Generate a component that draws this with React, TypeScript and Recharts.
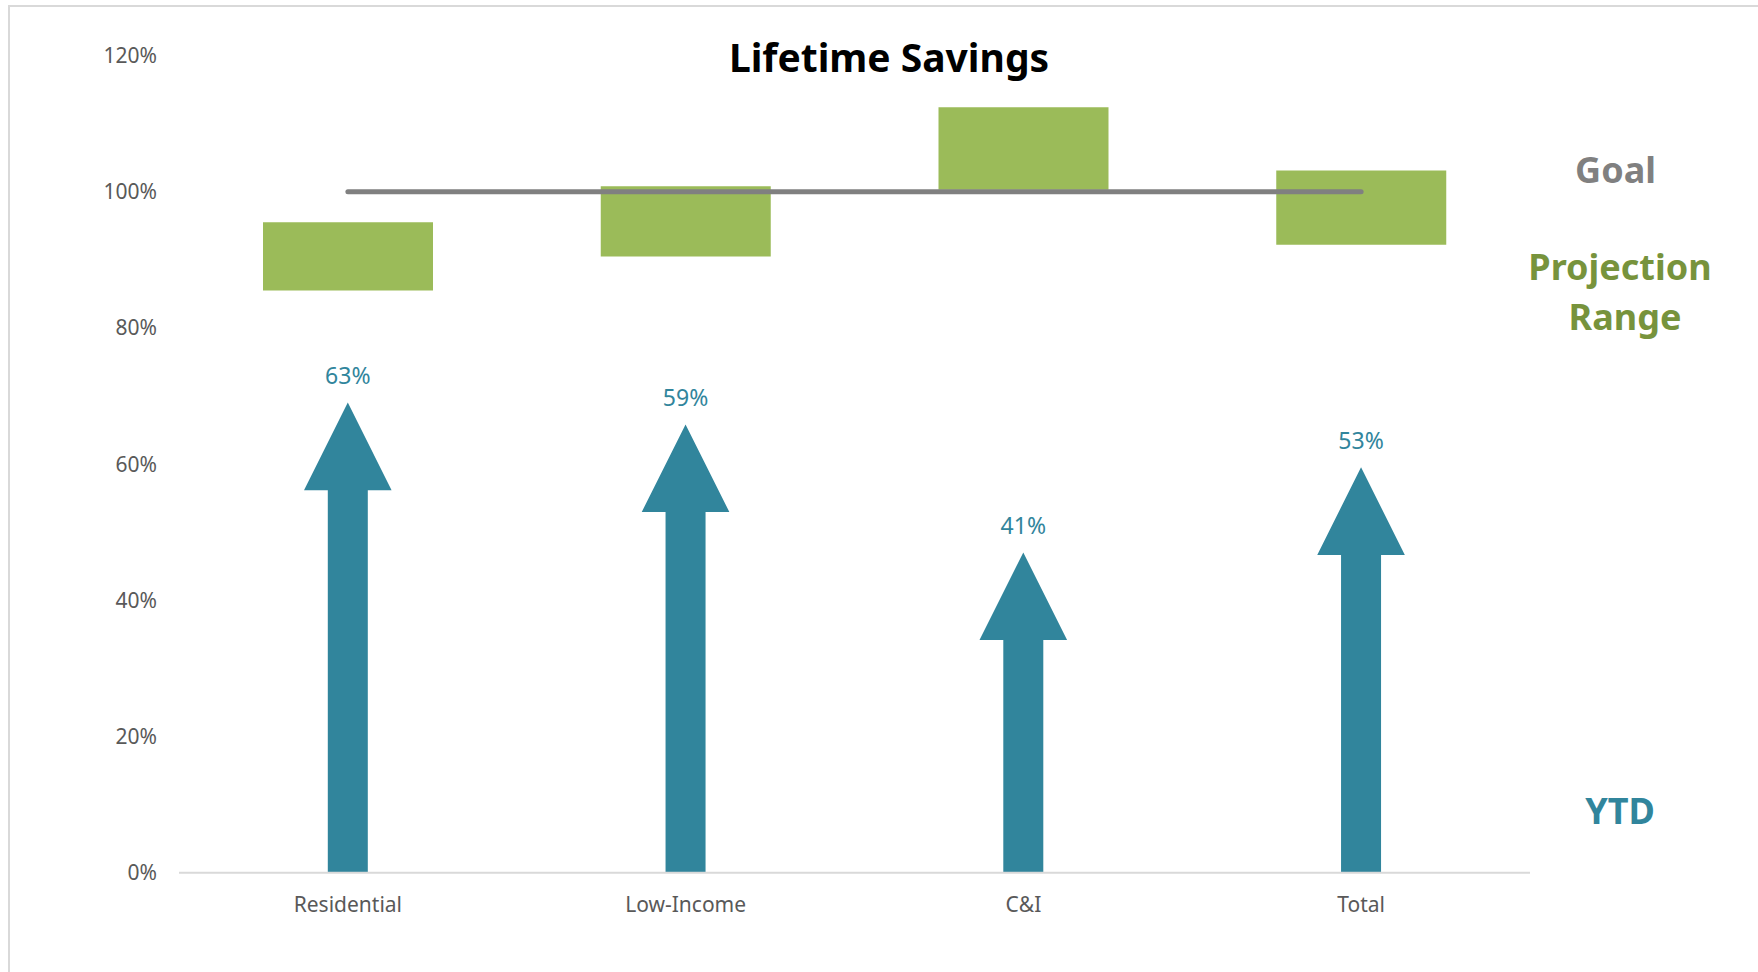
import React from 'react';
import { ComposedChart, Bar, Line, XAxis, YAxis } from 'recharts';

const categories = ['Residential', 'Low-Income', 'C&I', 'Total'];
const ytdValues = [62.6, 59.4, 40.6, 53.1];
const projectionLow = [85.5, 90.5, 100.3, 92.2];
const projectionHigh = [95.5, 100.8, 112.4, 103.1];
const goalValues = [100, 100, 100, 100];
const yTicks = [0, 20, 40, 60, 80, 100, 120];

const TEAL = '#31859C';
const GREEN = '#9BBB59';
const DARK_GREEN = '#77933C';
const GRAY = '#808080';
const FONT = '"Noto Sans", "Open Sans", sans-serif';

const data = categories.map((name, i) => ({
  name,
  ytd: ytdValues[i],
  range: [projectionLow[i], projectionHigh[i]],
  goal: goalValues[i],
}));

const ArrowShape = (props: any) => {
  const { x, y, width, height, payload } = props;
  if (x == null || y == null) return null;
  const cx = x + width / 2;
  const headHalfW = width / 2;
  const headHalfH = 43.8;
  const shaftHalf = 20;
  const bottom = y + height;
  const pts = [
    [cx - shaftHalf, bottom],
    [cx - shaftHalf, y + headHalfH],
    [cx - headHalfW, y + headHalfH],
    [cx, y - headHalfH],
    [cx + headHalfW, y + headHalfH],
    [cx + shaftHalf, y + headHalfH],
    [cx + shaftHalf, bottom],
  ]
    .map((p) => p.join(','))
    .join(' ');
  return (
    <g>
      <polygon points={pts} fill={TEAL} />
      <text
        x={cx}
        y={y - 62}
        textAnchor="middle"
        fill={TEAL}
        fontSize={23}
        fontFamily={FONT}
      >
        {Math.round(payload.ytd)}%
      </text>
    </g>
  );
};

export default function App() {
  return (
    <div
      style={{
        position: 'absolute',
        left: 0,
        top: 0,
        width: 1758,
        height: 972,
        overflow: 'hidden',
        background: '#ffffff',
      }}
    >
      <div
        style={{
          position: 'absolute',
          left: 8,
          top: 5,
          width: 1800,
          height: 1000,
          borderTop: '2px solid #D9D9D9',
          borderLeft: '2px solid #D9D9D9',
        }}
      />
      <div style={{ position: 'absolute', left: 0, top: 0 }}>
        <ComposedChart
          width={1758}
          height={972}
          data={data}
          margin={{ top: 55.5, right: 228, bottom: 59.3, left: 79 }}
        >
          <XAxis
            xAxisId="a"
            dataKey="name"
            height={40}
            axisLine={{ stroke: '#D9D9D9', strokeWidth: 2 }}
            tickLine={false}
            tickSize={0}
            tickMargin={24}
            tick={{ fill: '#595959', fontSize: 21, fontFamily: FONT }}
          />
          <XAxis xAxisId="b" dataKey="name" hide />
          <YAxis
            domain={[0, 120]}
            ticks={yTicks}
            tickFormatter={(v: number) => `${v}%`}
            axisLine={false}
            tickLine={false}
            tickSize={0}
            tickMargin={22}
            width={100}
            tick={{ fill: '#595959', fontSize: 21, fontFamily: FONT }}
          />
          <Bar
            xAxisId="a"
            dataKey="range"
            barSize={170}
            fill={GREEN}
            isAnimationActive={false}
          />
          <Bar
            xAxisId="b"
            dataKey="ytd"
            barSize={87.6}
            fill={TEAL}
            shape={ArrowShape}
            isAnimationActive={false}
          />
          <Line
            xAxisId="a"
            dataKey="goal"
            stroke={GRAY}
            strokeWidth={5}
            strokeLinecap="round"
            dot={false}
            activeDot={false}
            type="linear"
            isAnimationActive={false}
          />
        </ComposedChart>
      </div>
      <svg
        width={1758}
        height={972}
        style={{ position: 'absolute', left: 0, top: 0, pointerEvents: 'none' }}
      >
        <text x={889} y={71.7} textAnchor="middle" fontSize={39} fontWeight="bold" fill="#000000" fontFamily={FONT}>
          Lifetime Savings
        </text>
        <text x={1615.5} y={182.5} textAnchor="middle" fontSize={36} fontWeight="bold" fill={GRAY} fontFamily={FONT}>
          Goal
        </text>
        <text x={1620} y={280} textAnchor="middle" fontSize={36} fontWeight="bold" fill={DARK_GREEN} fontFamily={FONT}>
          Projection
        </text>
        <text x={1625} y={330} textAnchor="middle" fontSize={36} fontWeight="bold" fill={DARK_GREEN} fontFamily={FONT}>
          Range
        </text>
        <text x={1620} y={824} textAnchor="middle" fontSize={36} fontWeight="bold" fill={TEAL} fontFamily={FONT}>
          YTD
        </text>
      </svg>
    </div>
  );
}
